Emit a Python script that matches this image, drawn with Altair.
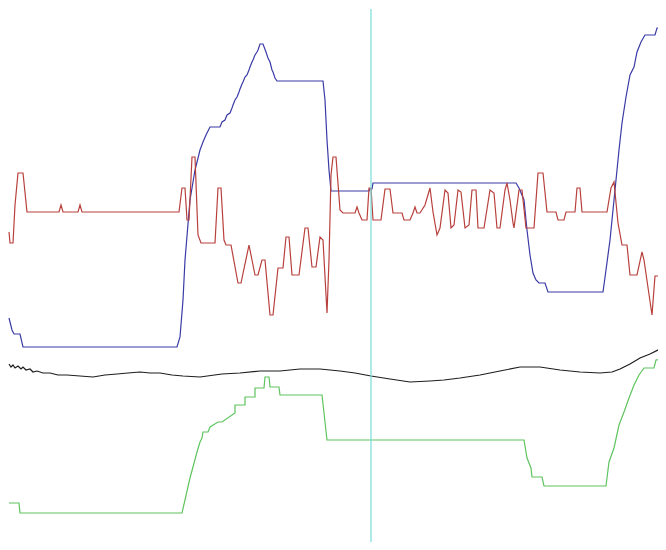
import altair as alt
import pandas as pd

# Series values (read in reference pixel coordinates: x to the right, y downward)
blue_x = [9, 12, 14, 20, 23, 177, 180, 183, 185, 190, 195, 200, 203, 206, 210, 220, 222, 225, 227, 230, 232,
          233, 235, 237, 239, 240, 242, 243, 245, 247, 249, 250, 252, 253, 255, 257, 258, 260, 263, 266, 268,
          270, 272, 273, 275, 277, 323, 325, 327, 329, 331, 369, 370, 372, 373, 516, 519, 524, 527, 530, 533,
          536, 539, 545, 548, 603, 606, 610, 613, 616, 619, 622, 626, 630, 634, 637, 641, 645, 655, 657, 666]
blue_y = [318, 330, 334, 334, 347, 347, 337, 300, 260, 200, 170, 150, 142, 135, 127, 127, 122, 120, 115, 113,
          108, 105, 100, 97, 92, 89, 84, 82, 77, 75, 70, 67, 62, 60, 55, 52, 50, 44, 44, 52, 58, 62, 70, 72,
          78, 81, 81, 100, 140, 170, 191, 191, 189, 189, 183, 183, 188, 200, 230, 255, 273, 280, 283, 283, 292,
          292, 270, 240, 210, 180, 150, 123, 97, 75, 67, 52, 42, 35, 35, 28, 28]

red_x = [9, 10, 13, 15, 18, 23, 27, 59, 61, 63, 78, 80, 82, 179, 182, 185, 187, 189, 192, 195, 198, 201, 215,
         218, 221, 224, 226, 231, 238, 241, 249, 252, 255, 258, 262, 265, 270, 273, 278, 283, 286, 289, 292,
         299, 305, 308, 312, 316, 320, 323, 327, 329, 331, 333, 336, 340, 343, 355, 357, 359, 362, 367, 369,
         371, 373, 381, 385, 390, 393, 402, 404, 410, 413, 415, 417, 420, 425, 430, 433, 437, 440, 445, 448,
         451, 454, 458, 461, 465, 469, 472, 476, 478, 484, 490, 494, 497, 500, 505, 507, 510, 513, 514, 519,
         522, 526, 534, 538, 543, 547, 556, 558, 564, 566, 575, 577, 580, 582, 607, 611, 614, 618, 622, 627,
         630, 637, 642, 644, 652, 655, 660, 664, 666]
red_y = [232, 243, 243, 205, 173, 173, 212, 212, 205, 212, 212, 205, 212, 212, 188, 188, 220, 220, 157, 157,
         235, 243, 243, 188, 188, 240, 245, 245, 283, 283, 245, 260, 275, 275, 260, 260, 315, 315, 268, 268,
         237, 237, 275, 275, 228, 228, 267, 267, 237, 240, 313, 260, 175, 157, 157, 210, 213, 213, 207, 213,
         220, 220, 188, 188, 220, 220, 189, 189, 213, 213, 220, 220, 213, 207, 213, 213, 205, 188, 212, 235,
         228, 190, 193, 228, 225, 190, 192, 228, 225, 190, 190, 228, 228, 190, 193, 228, 228, 190, 183, 200,
         223, 228, 190, 190, 228, 228, 173, 173, 212, 212, 220, 220, 212, 212, 188, 188, 212, 212, 188, 182,
         223, 245, 245, 275, 275, 252, 260, 315, 276, 276, 315, 315]

black_x = [9, 11, 13, 15, 18, 21, 23, 26, 30, 33, 37, 43, 50, 58, 67, 80, 93, 105, 117, 128, 140, 150, 160,
           172, 183, 200, 222, 240, 260, 280, 300, 320, 340, 355, 371, 390, 410, 430, 444, 460, 480, 500, 520,
           540, 560, 580, 600, 612, 620, 630, 640, 650, 660, 666]
black_y = [364, 367, 365, 368, 366, 369, 367, 370, 369, 372, 371, 373, 373, 375, 375, 376, 377, 375, 374, 373,
           372, 373, 373, 375, 376, 377, 374, 373, 371, 371, 369, 369, 371, 373, 376, 379, 382, 381, 380, 378,
           375, 371, 367, 367, 370, 372, 373, 372, 369, 364, 358, 354, 349, 346]

green_x = [9, 19, 20, 182, 190, 197, 200, 202, 203, 208, 210, 218, 222, 235, 235, 245, 245, 255, 255, 264,
           265, 269, 270, 279, 280, 322, 327, 524, 527, 531, 532, 542, 544, 606, 609, 614, 619, 624, 629, 634,
           639, 644, 654, 656, 666]
green_y = [503, 503, 513, 513, 478, 452, 442, 438, 432, 432, 427, 422, 422, 413, 405, 405, 397, 397, 388, 388,
           377, 377, 387, 387, 395, 395, 440, 440, 458, 468, 477, 477, 486, 486, 462, 448, 425, 412, 398, 385,
           375, 368, 368, 360, 358]

marker_x = [371, 371]
marker_y = [9, 550]

series_names = ["blue", "red", "black", "green", "marker"]
series_colors = ["#3a3aa6", "#b8403c", "#1e1e1e", "#5ec45e", "#78dcdc"]

rows = []
for name, xs, ys in [("blue", blue_x, blue_y), ("red", red_x, red_y), ("black", black_x, black_y),
                     ("green", green_x, green_y), ("marker", marker_x, marker_y)]:
    for i, (x, y) in enumerate(zip(xs, ys)):
        rows.append({"series": name, "i": i, "x": x, "y": y})
df = pd.DataFrame(rows)

chart = alt.Chart(df).mark_line(strokeWidth=1.2, clip=True, interpolate="linear").encode(
    x=alt.X("x:Q", axis=None, scale=alt.Scale(domain=[8, 658], nice=False, zero=False)),
    y=alt.Y("y:Q", axis=None, scale=alt.Scale(domain=[8, 542], reverse=True, nice=False, zero=False)),
    color=alt.Color("series:N", legend=None,
                    scale=alt.Scale(domain=series_names, range=series_colors)),
    detail="series:N",
    order="i:Q",
).properties(
    width=650, height=534, padding=0, autosize=alt.AutoSizeParams(type="none"),
    background="white",
).configure_view(stroke=None)

chart.save("out.html", embed_options={"renderer": "svg", "actions": False})
